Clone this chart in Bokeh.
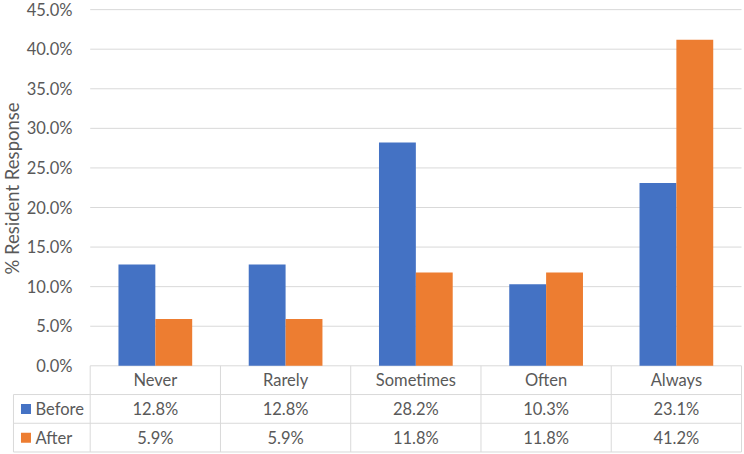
from math import pi

from bokeh.core.properties import value
from bokeh.embed import file_html
from bokeh.models import ColumnDataSource, Range1d
from bokeh.plotting import figure
from bokeh.resources import INLINE

# --- data -------------------------------------------------------------
categories = ["Never", "Rarely", "Sometimes", "Often", "Always"]
series_names = ["Before", "After"]
before = [12.8, 12.8, 28.2, 10.3, 23.1]
after = [5.9, 5.9, 11.8, 11.8, 41.2]
y_ticks = [0, 5, 10, 15, 20, 25, 30, 35, 40, 45]
y_title = "% Resident Response"

# --- styling ------------------------------------------------------------
BLUE = "#4472C4"
ORANGE = "#ED7D31"
TEXT = "#595959"
GRID = "#D9D9D9"
FONT = value("Lato")
FS = "16.5px"

W, H = 744, 454
# one category slot = 1 x-unit; plot area starts at pixel 89.7
PX_PER_CAT = 130.26
X0_PX = 89.7
# 0 % sits at pixel row 365.3, 7.915 px per percentage point
ZERO_PX = 365.3
PX_PER_PCT = 7.915

ROW = 3.63          # table row height in y units
BAR_W = 0.283       # bar width in category units
LEG_LEFT = -0.589   # left edge of the table's legend column

p = figure(
    width=W, height=H,
    x_range=Range1d(-X0_PX / PX_PER_CAT, (W - X0_PX) / PX_PER_CAT),
    y_range=Range1d((ZERO_PX - H) / PX_PER_PCT, ZERO_PX / PX_PER_PCT),
    output_backend="svg", toolbar_location=None,
    min_border=0,
)
p.axis.visible = False
p.grid.visible = False
p.outline_line_color = None
p.background_fill_color = "white"
p.border_fill_color = "white"

n = len(categories)

# horizontal gridlines (the 0 % line doubles as the table's top border)
p.segment(x0=[0] * len(y_ticks), x1=[n] * len(y_ticks), y0=y_ticks, y1=y_ticks,
          line_color=GRID, line_width=1)

# value-axis labels
p.text(x=[-0.136] * len(y_ticks), y=y_ticks,
       text=[f"{t:.1f}%" for t in y_ticks],
       text_font=FONT, text_font_size=FS, text_color=TEXT,
       text_align="right", text_baseline="middle")

# axis title
p.text(x=[-0.604], y=[22.4], text=[y_title], angle=pi / 2,
       text_font=FONT, text_font_size="18.5px", text_color=TEXT,
       text_align="center", text_baseline="middle")

# clustered bars
centers = [i + 0.5 for i in range(n)]
src = ColumnDataSource(dict(
    xb=[c - BAR_W / 2 for c in centers],
    xa=[c + BAR_W / 2 for c in centers],
    before=before, after=after,
))
p.vbar(x="xb", top="before", bottom=0, width=BAR_W, source=src,
       fill_color=BLUE, line_color=None)
p.vbar(x="xa", top="after", bottom=0, width=BAR_W, source=src,
       fill_color=ORANGE, line_color=None)

# --- data table under the plot ------------------------------------------
row_lines = [-ROW, -2 * ROW, -3 * ROW]
p.segment(x0=[LEG_LEFT] * 3, x1=[n] * 3, y0=row_lines, y1=row_lines,
          line_color=GRID, line_width=1)
# column separators
p.segment(x0=list(range(n + 1)), x1=list(range(n + 1)),
          y0=[0] * (n + 1), y1=[-3 * ROW] * (n + 1),
          line_color=GRID, line_width=1)
p.segment(x0=[LEG_LEFT], x1=[LEG_LEFT], y0=[-ROW], y1=[-3 * ROW],
          line_color=GRID, line_width=1)

# category header
p.text(x=centers, y=[-ROW / 2] * n, text=categories,
       text_font=FONT, text_font_size=FS, text_color=TEXT,
       text_align="center", text_baseline="middle")

# value rows
for k, vals in enumerate([before, after]):
    yc = -ROW * (k + 1.5)
    p.text(x=centers, y=[yc] * n, text=[f"{v:.1f}%" for v in vals],
           text_font=FONT, text_font_size=FS, text_color=TEXT,
           text_align="center", text_baseline="middle")

# legend keys inside the table
row_y = [-ROW * 1.5, -ROW * 2.5]
p.rect(x=[-0.493] * 2, y=row_y, width=10, height=10,
       width_units="screen", height_units="screen",
       fill_color=[BLUE, ORANGE], line_color=None)
p.text(x=[-0.42] * 2, y=row_y, text=series_names,
       text_font=FONT, text_font_size=FS, text_color=TEXT,
       text_align="left", text_baseline="middle")

open("out.html", "w").write(file_html(p, INLINE))
